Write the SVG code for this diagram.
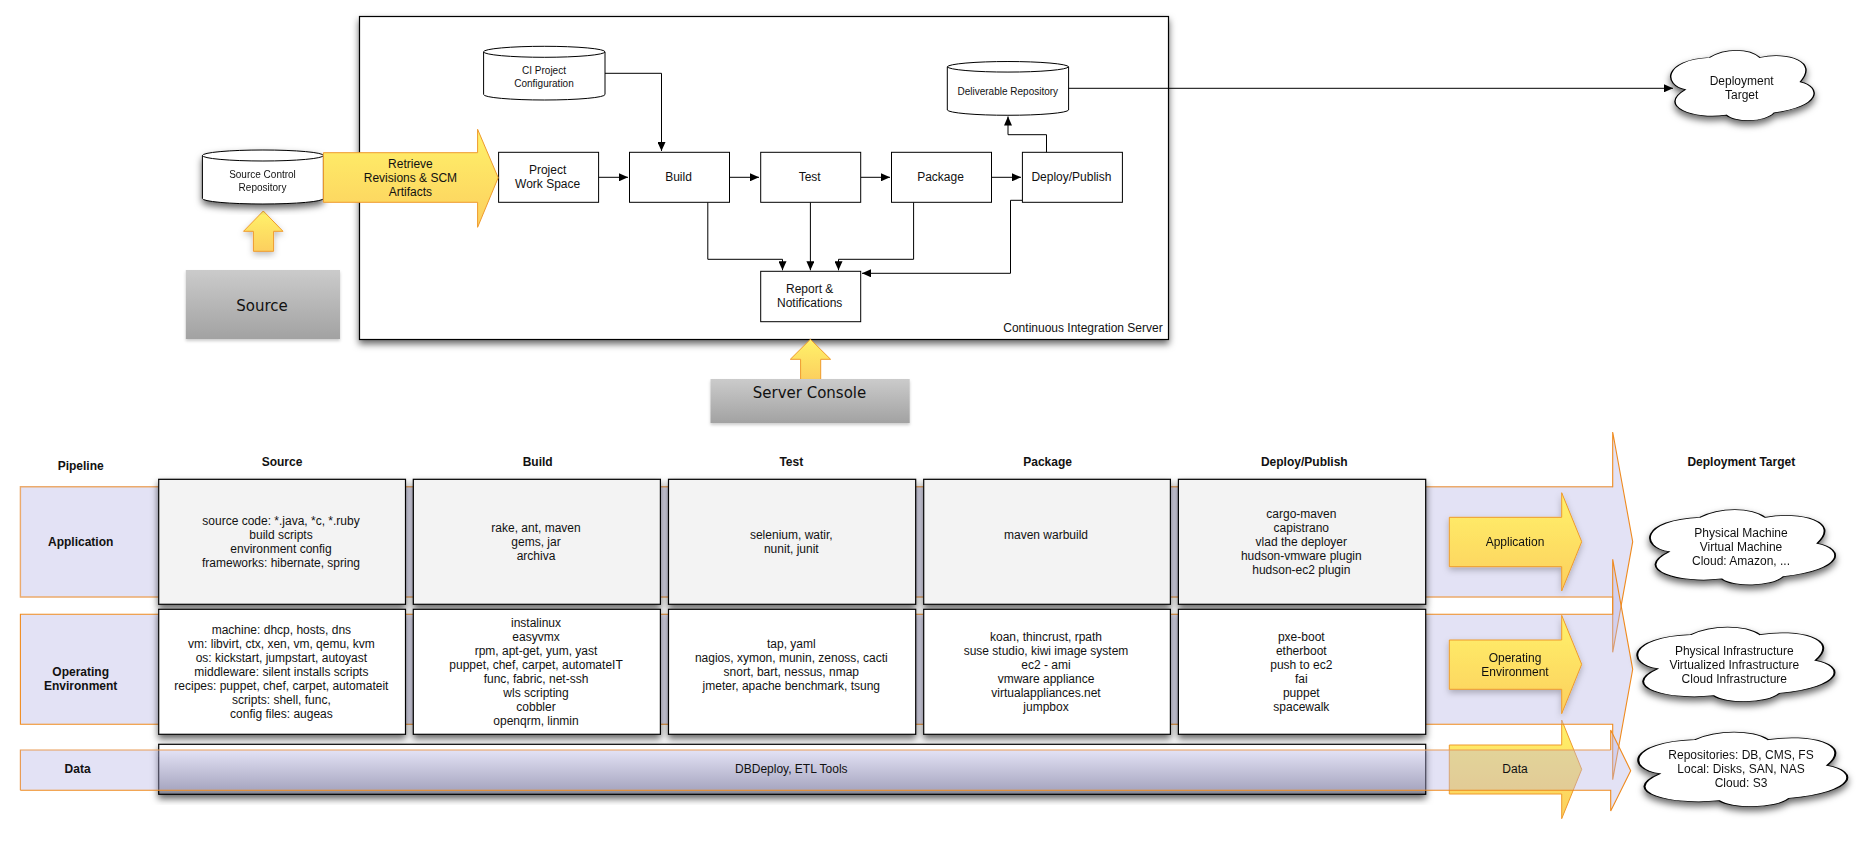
<svg xmlns="http://www.w3.org/2000/svg" width="1875" height="841" viewBox="0 0 1875 841">
<style>
text{font-family:"Liberation Sans",Arial,sans-serif;font-size:12px;fill:#111;text-anchor:middle}
.b{font-weight:bold}
.s{font-size:10px}
.c{font-family:"DejaVu Sans",sans-serif;font-size:15px}
.box{fill:#fff;stroke:#000;stroke-width:1}
.cell{fill:#fff;stroke:#000;stroke-width:1.2;filter:url(#sh)}
.g{fill:#f3f3f3}
.yel{fill:url(#yg);stroke:#ef9a2c;stroke-width:1}
.bf{fill:#b9b7e6;fill-opacity:.4;stroke:none}
.bs{fill:none;stroke:#ef8a1e;stroke-width:1.1}
.bp{fill:none;stroke:#ecaa6c;stroke-width:1.4}
.gray{fill:url(#gg);filter:url(#shl)}
.cloud{fill:#fff;stroke:#000;stroke-width:1;vector-effect:non-scaling-stroke}
.con{fill:none;stroke:#000;stroke-width:1}
.arr{marker-end:url(#ah)}
.shd{filter:url(#sh)}
.shy{filter:url(#shy)}
</style>
<defs>
<linearGradient id="yg" x1="0" y1="0" x2="0" y2="1"><stop offset="0" stop-color="#fff26a"/><stop offset="1" stop-color="#fccf5e"/></linearGradient>
<linearGradient id="gg" x1="0" y1="0" x2="0" y2="1"><stop offset="0" stop-color="#cbcbcb"/><stop offset="1" stop-color="#a2a2a2"/></linearGradient>
<linearGradient id="dg" x1="0" y1="0" x2="0" y2="1"><stop offset="0" stop-color="#fff"/><stop offset=".12" stop-color="#fff"/><stop offset=".92" stop-color="#9b9ba7"/><stop offset="1" stop-color="#7c7c88"/></linearGradient>
<filter id="sh" x="-15%" y="-15%" width="130%" height="135%"><feDropShadow dx="0" dy="4" stdDeviation="3.5" flood-color="#000" flood-opacity=".6"/></filter>
<filter id="shy" x="-15%" y="-15%" width="130%" height="135%"><feDropShadow dx="0" dy="3" stdDeviation="3" flood-color="#000" flood-opacity=".25"/></filter>
<filter id="shl" x="-10%" y="-10%" width="120%" height="125%"><feDropShadow dx="0" dy="2" stdDeviation="1.5" flood-color="#000" flood-opacity=".2"/></filter>
<marker id="ah" markerUnits="userSpaceOnUse" markerWidth="10" markerHeight="8" refX="9" refY="4" orient="auto"><path d="M0,0 L9,4 L0,8 Z" fill="#000"/></marker>
<path id="cl" d="M10.3,56 C-5.5,50 -5.5,14 27.2,10.6 C38,-3 55,-3 62.5,10.6 C82,2 104,16 90.9,45 C106,52 106,80 72.5,89 C66,103 45,103 39,92 C16,99 -10,80 10.3,56 Z"/>
</defs>

<g id="ci-server"><rect x="359.5" y="16.5" width="809" height="323" fill="#fff" stroke="#000" stroke-width="1.2" filter="url(#sh)"/><text x="1083" y="332">Continuous Integration Server</text></g>

<g id="source-arrow" class="shy"><path class="yel" d="M253.4,251.3 V231.3 H243.5 L263.3,211 L283,231.3 H273.6 V251.3 Z"/></g>
<g id="source"><rect class="gray" x="185.8" y="270" width="154.2" height="69"/><text class="c" x="262" y="311">Source</text></g>
<g id="console-arrow"><path class="yel" d="M800.6,380 V359.3 H790.3 L810.4,339.3 L830.6,359.3 H820.7 V380 Z"/></g>
<g id="server-console"><rect class="gray" x="710.5" y="379" width="199.2" height="44"/><text class="c" x="809.5" y="398">Server Console</text></g>

<g id="source-repo" class="shd"><path d="M202.4,155.5 A60.5,5.5 0 0 1 323.4,155.5 V198.5 A60.5,5.5 0 0 1 202.4,198.5 Z" class="box"/><path d="M202.4,155.5 A60.5,5.5 0 0 0 323.4,155.5" class="con"/><text class="s" x="262.5" y="177.5">Source Control</text><text class="s" x="262.5" y="190.5">Repository</text></g>
<g id="ci-config"><path d="M483.6,51.8 A60.7,5.5 0 0 1 605,51.8 V94.5 A60.7,5.5 0 0 1 483.6,94.5 Z" class="box"/><path d="M483.6,51.8 A60.7,5.5 0 0 0 605,51.8" class="con"/><text class="s" x="544" y="73.5">CI Project</text><text class="s" x="544" y="86.5">Configuration</text></g>
<g id="deliverable"><path d="M947.3,66.8 A60.7,5.5 0 0 1 1068.6,66.8 V110 A60.7,5.5 0 0 1 947.3,110 Z" class="box"/><path d="M947.3,66.8 A60.7,5.5 0 0 0 1068.6,66.8" class="con"/><text class="s" x="1007.8" y="94.8">Deliverable Repository</text></g>

<g id="connectors">
<path class="con arr" d="M605,73.3 H661.5 V151"/>
<path class="con arr" d="M598.6,177.3 H628"/>
<path class="con arr" d="M729.5,177.3 H759"/>
<path class="con arr" d="M860.7,177.3 H890"/>
<path class="con arr" d="M991.5,177.3 H1021"/>
<path class="con arr" d="M1046.5,152.3 V134.7 H1008 V116.5"/>
<path class="con arr" d="M1068.6,88.3 H1673"/>
<path class="con arr" d="M707.8,202.3 V259.3 H782.5 V270.3"/>
<path class="con arr" d="M810.4,202.3 V270.3"/>
<path class="con arr" d="M913.6,202.3 V259.3 H838.5 V270.3"/>
<path class="con arr" d="M1022.4,200.3 H1010.5 V273.3 H862"/>
</g>

<g id="project"><rect class="box" x="498.6" y="152.3" width="100" height="50"/><text x="547.6" y="173.7">Project</text><text x="547.6" y="187.7">Work Space</text></g>
<g id="build"><rect class="box" x="629.5" y="152.3" width="100" height="50"/><text x="678.5" y="180.7">Build</text></g>
<g id="test"><rect class="box" x="760.7" y="152.3" width="100" height="50"/><text x="809.7" y="180.7">Test</text></g>
<g id="package"><rect class="box" x="891.5" y="152.3" width="100" height="50"/><text x="940.5" y="180.7">Package</text></g>
<g id="deploy"><rect class="box" x="1022.4" y="152.3" width="100" height="50"/><text x="1071.4" y="180.7">Deploy/Publish</text></g>
<g id="report"><rect class="box" x="760.7" y="271.3" width="100" height="50.4"/><text x="809.7" y="292.7">Report &amp;</text><text x="809.7" y="306.7">Notifications</text></g>
<g id="retrieve"><path class="yel" d="M323.4,152.7 H477.6 V129.3 L498.2,177.7 L477.6,227.3 V202.3 H323.4 Z"/><text x="410.4" y="168">Retrieve</text><text x="410.4" y="182">Revisions &amp; SCM</text><text x="410.4" y="196">Artifacts</text></g>

<g id="deployment-target" class="shd"><use href="#cl" class="cloud" transform="translate(1670.7,50) scale(1.426,.707)"/><text x="1741.7" y="84.7">Deployment</text><text x="1741.7" y="99">Target</text></g>

<g id="headers">
<text class="b" x="80.7" y="469.7">Pipeline</text>
<text class="b" x="282" y="465.7">Source</text>
<text class="b" x="537.7" y="465.7">Build</text>
<text class="b" x="791.3" y="465.7">Test</text>
<text class="b" x="1047.6" y="465.7">Package</text>
<text class="b" x="1304.3" y="465.7">Deploy/Publish</text>
<text class="b" x="1741.3" y="465.7">Deployment Target</text>
</g>

<g id="data-row"><rect x="158.7" y="744.3" width="1267" height="50" fill="url(#dg)" stroke="#000" stroke-width="1.2" filter="url(#sh)"/></g>
<g id="data-arrow"><path class="yel" d="M1449.3,745 H1561.7 V720 L1581.7,769.3 L1561.7,818.7 V794 H1449.3 Z"/></g>

<g id="application-band"><path class="bf" d="M20.4,486.7 H1612.7 V432 L1632.7,541.7 L1612.7,652.3 V597 H20.4 Z"/><path class="bp" d="M1612.7,486.7 H20.4 V597 H1612.7"/><path class="bs" d="M1612.7,487.2 V432 L1632.7,541.7 L1612.7,652.3 V596.5"/></g>
<g id="environment-band"><path class="bf" d="M20.4,614.3 H1612.7 V559.3 L1632.7,669.3 L1612.7,779.7 V724.3 H20.4 Z"/><path class="bs" d="M20.4,614.3 H1612.7 V559.3 L1632.7,669.3 L1612.7,779.7 V724.3 H20.4 Z"/></g>
<g id="data-band"><path class="bf" d="M20.4,750 H1610.7 V730 L1630.7,770.7 L1610.7,811 V790.3 H20.4 Z"/><path class="bp" style="stroke:#e99c55;stroke-width:1.2" d="M1610.7,750 H20.4 V790.3"/><path class="bs" d="M20.4,790.3 H1610.7 V811 L1630.7,770.7 L1610.7,730 V750"/></g>

<g id="row-labels">
<text class="b" x="80.7" y="545.7">Application</text>
<text class="b" x="80.7" y="676">Operating</text><text class="b" x="80.7" y="690">Environment</text>
<text class="b" x="77.6" y="773">Data</text>
</g>

<g id="app-source"><rect class="cell g" x="158.7" y="479.3" width="246.8" height="125"/><text x="281" y="525">source code: *.java, *c, *.ruby</text><text x="281" y="539">build scripts</text><text x="281" y="553">environment config</text><text x="281" y="567">frameworks: hibernate, spring</text></g>
<g id="app-build"><rect class="cell g" x="413.3" y="479.3" width="247.1" height="125"/><text x="536" y="532">rake, ant, maven</text><text x="536" y="546">gems, jar</text><text x="536" y="560">archiva</text></g>
<g id="app-test"><rect class="cell g" x="668.5" y="479.3" width="247.2" height="125"/><text x="791.3" y="539">selenium, watir,</text><text x="791.3" y="553">nunit, junit</text></g>
<g id="app-package"><rect class="cell g" x="923.7" y="479.3" width="246.7" height="125"/><text x="1046" y="539">maven warbuild</text></g>
<g id="app-deploy"><rect class="cell g" x="1178.4" y="479.3" width="247.3" height="125"/><text x="1301.3" y="518">cargo-maven</text><text x="1301.3" y="532">capistrano</text><text x="1301.3" y="546">vlad the deployer</text><text x="1301.3" y="560">hudson-vmware plugin</text><text x="1301.3" y="574">hudson-ec2 plugin</text></g>

<g id="env-source"><rect class="cell" x="158.7" y="609.3" width="246.8" height="125"/><text x="281.4" y="634">machine: dhcp, hosts, dns</text><text x="281.4" y="648">vm: libvirt, ctx, xen, vm, qemu, kvm</text><text x="281.4" y="662">os: kickstart, jumpstart, autoyast</text><text x="281.4" y="676">middleware: silent installs scripts</text><text x="281.4" y="690">recipes: puppet, chef, carpet, automateit</text><text x="281.4" y="704">scripts: shell, func,</text><text x="281.4" y="718">config files: augeas</text></g>
<g id="env-build"><rect class="cell" x="413.3" y="609.3" width="247.1" height="125"/><text x="536" y="627">instalinux</text><text x="536" y="641">easyvmx</text><text x="536" y="655">rpm, apt-get, yum, yast</text><text x="536" y="669">puppet, chef, carpet, automateIT</text><text x="536" y="683">func, fabric, net-ssh</text><text x="536" y="697">wls scripting</text><text x="536" y="711">cobbler</text><text x="536" y="725">openqrm, linmin</text></g>
<g id="env-test"><rect class="cell" x="668.5" y="609.3" width="247.2" height="125"/><text x="791.3" y="648">tap, yaml</text><text x="791.3" y="662">nagios, xymon, munin, zenoss, cacti</text><text x="791.3" y="676">snort, bart, nessus, nmap</text><text x="791.3" y="690">jmeter, apache benchmark, tsung</text></g>
<g id="env-package"><rect class="cell" x="923.7" y="609.3" width="246.7" height="125"/><text x="1046" y="641">koan, thincrust, rpath</text><text x="1046" y="655">suse studio, kiwi image system</text><text x="1046" y="669">ec2 - ami</text><text x="1046" y="683">vmware appliance</text><text x="1046" y="697">virtualappliances.net</text><text x="1046" y="711">jumpbox</text></g>
<g id="env-deploy"><rect class="cell" x="1178.4" y="609.3" width="247.3" height="125"/><text x="1301.3" y="641">pxe-boot</text><text x="1301.3" y="655">etherboot</text><text x="1301.3" y="669">push to ec2</text><text x="1301.3" y="683">fai</text><text x="1301.3" y="697">puppet</text><text x="1301.3" y="711">spacewalk</text></g>
<g id="data-text"><text x="791.3" y="773">DBDeploy, ETL Tools</text></g>

<g id="application-arrow" class="shy"><path class="yel" d="M1449.3,517.3 H1561.7 V492.7 L1581.7,541.7 L1561.7,591 V566.7 H1449.3 Z"/><text x="1515" y="546">Application</text></g>
<g id="environment-arrow" class="shy"><path class="yel" d="M1449.3,640 H1561.7 V615.3 L1581.7,664.3 L1561.7,713.7 V689.3 H1449.3 Z"/><text x="1515" y="662">Operating</text><text x="1515" y="675.7">Environment</text></g>
<g id="data-label"><text x="1515" y="773.3">Data</text></g>

<g id="cloud-app" class="shd"><use href="#cl" class="cloud" transform="translate(1650,509.3) scale(1.84,.757)"/><text x="1741" y="536.7">Physical Machine</text><text x="1741" y="550.7">Virtual Machine</text><text x="1741" y="564.7">Cloud: Amazon, ...</text></g>
<g id="cloud-env" class="shd"><use href="#cl" class="cloud" transform="translate(1637.3,626.7) scale(1.96,.75)"/><text x="1734.3" y="654.7">Physical Infrastructure</text><text x="1734.3" y="668.7">Virtualized Infrastructure</text><text x="1734.3" y="682.7">Cloud Infrastructure</text></g>
<g id="cloud-data" class="shd"><use href="#cl" class="cloud" transform="translate(1638.3,731.7) scale(2.077,.75)"/><text x="1741" y="758.7">Repositories: DB, CMS, FS</text><text x="1741" y="772.7">Local: Disks, SAN, NAS</text><text x="1741" y="786.7">Cloud: S3</text></g>
</svg>
